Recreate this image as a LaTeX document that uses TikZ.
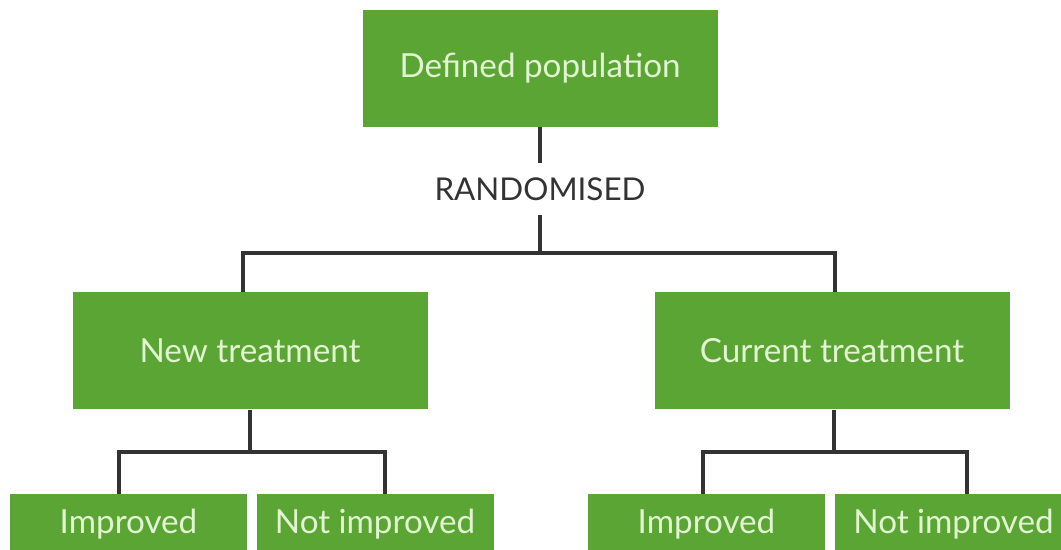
\documentclass[tikz,border=0pt]{standalone}
\usepackage{fontspec}
\setmainfont{Lato}
\usetikzlibrary{positioning}
\definecolor{boxgreen}{HTML}{5BA535}
\definecolor{boxtext}{HTML}{E2F4D2}
\definecolor{linkgray}{HTML}{333333}

\begin{document}
\begin{tikzpicture}[
  x=0.5pt, y=-0.5pt,
  font      = \fontsize{16.6}{20}\selectfont,
  % big boxes 355 x 117 px, leaves 237 x 58 px (1 px = 0.5 pt)
  box/.style  = {fill=boxgreen, text=boxtext, inner sep=0pt,
                 minimum width=177.5pt, minimum height=58.5pt},
  leaf/.style = {fill=boxgreen, text=boxtext, inner sep=0pt,
                 minimum width=118.5pt, minimum height=30pt},
  tag/.style  = {text=linkgray, inner xsep=0pt, inner ysep=7pt,
                 font=\fontsize{15.7}{19}\selectfont},
  link/.style = {draw=linkgray, line width=2pt},
]
\useasboundingbox (0,0) rectangle (1061,550);
\clip (0,0) rectangle (1061,550);

% Top row
\node[box] (pop)  at (540, 68.5) {Defined population};
\node[tag] (rand) at (540, 189)  {RANDOMISED};

% Middle row
\node[box] (newt) at (250, 351) {New treatment};
\node[box] (curt) at (832, 351) {Current treatment};

% Bottom row (cut off by the frame)
\node[leaf] (newimp) at (128.5, 524) {Improved};
\node[leaf] (newnot) at (375,   524) {Not improved};
\node[leaf] (curimp) at (706.5, 524) {Improved};
\node[leaf] (curnot) at (953.5, 524) {Not improved};

% ── Connectors ────────────────────────────────────────────
\coordinate (split)   at (540, 253);
\coordinate (newsplit) at (250, 452);
\coordinate (cursplit) at (834, 452);

\draw[link] (pop) -- (rand);
\draw[link] (rand) -- (split);
\draw[link] ([xshift=-3.5pt]newt.north) |- (split) -| ([xshift=1.5pt]curt.north);

\draw[link] (newt.south) -- (newsplit);
\draw[link] ([xshift=-5pt]newimp.north) |- (newsplit) -| ([xshift=5pt]newnot.north);

\draw[link] ([xshift=1pt]curt.south) -- (cursplit);
\draw[link] ([xshift=-2pt]curimp.north) |- (cursplit) -| ([xshift=6.5pt]curnot.north);

\end{tikzpicture}
\end{document}
